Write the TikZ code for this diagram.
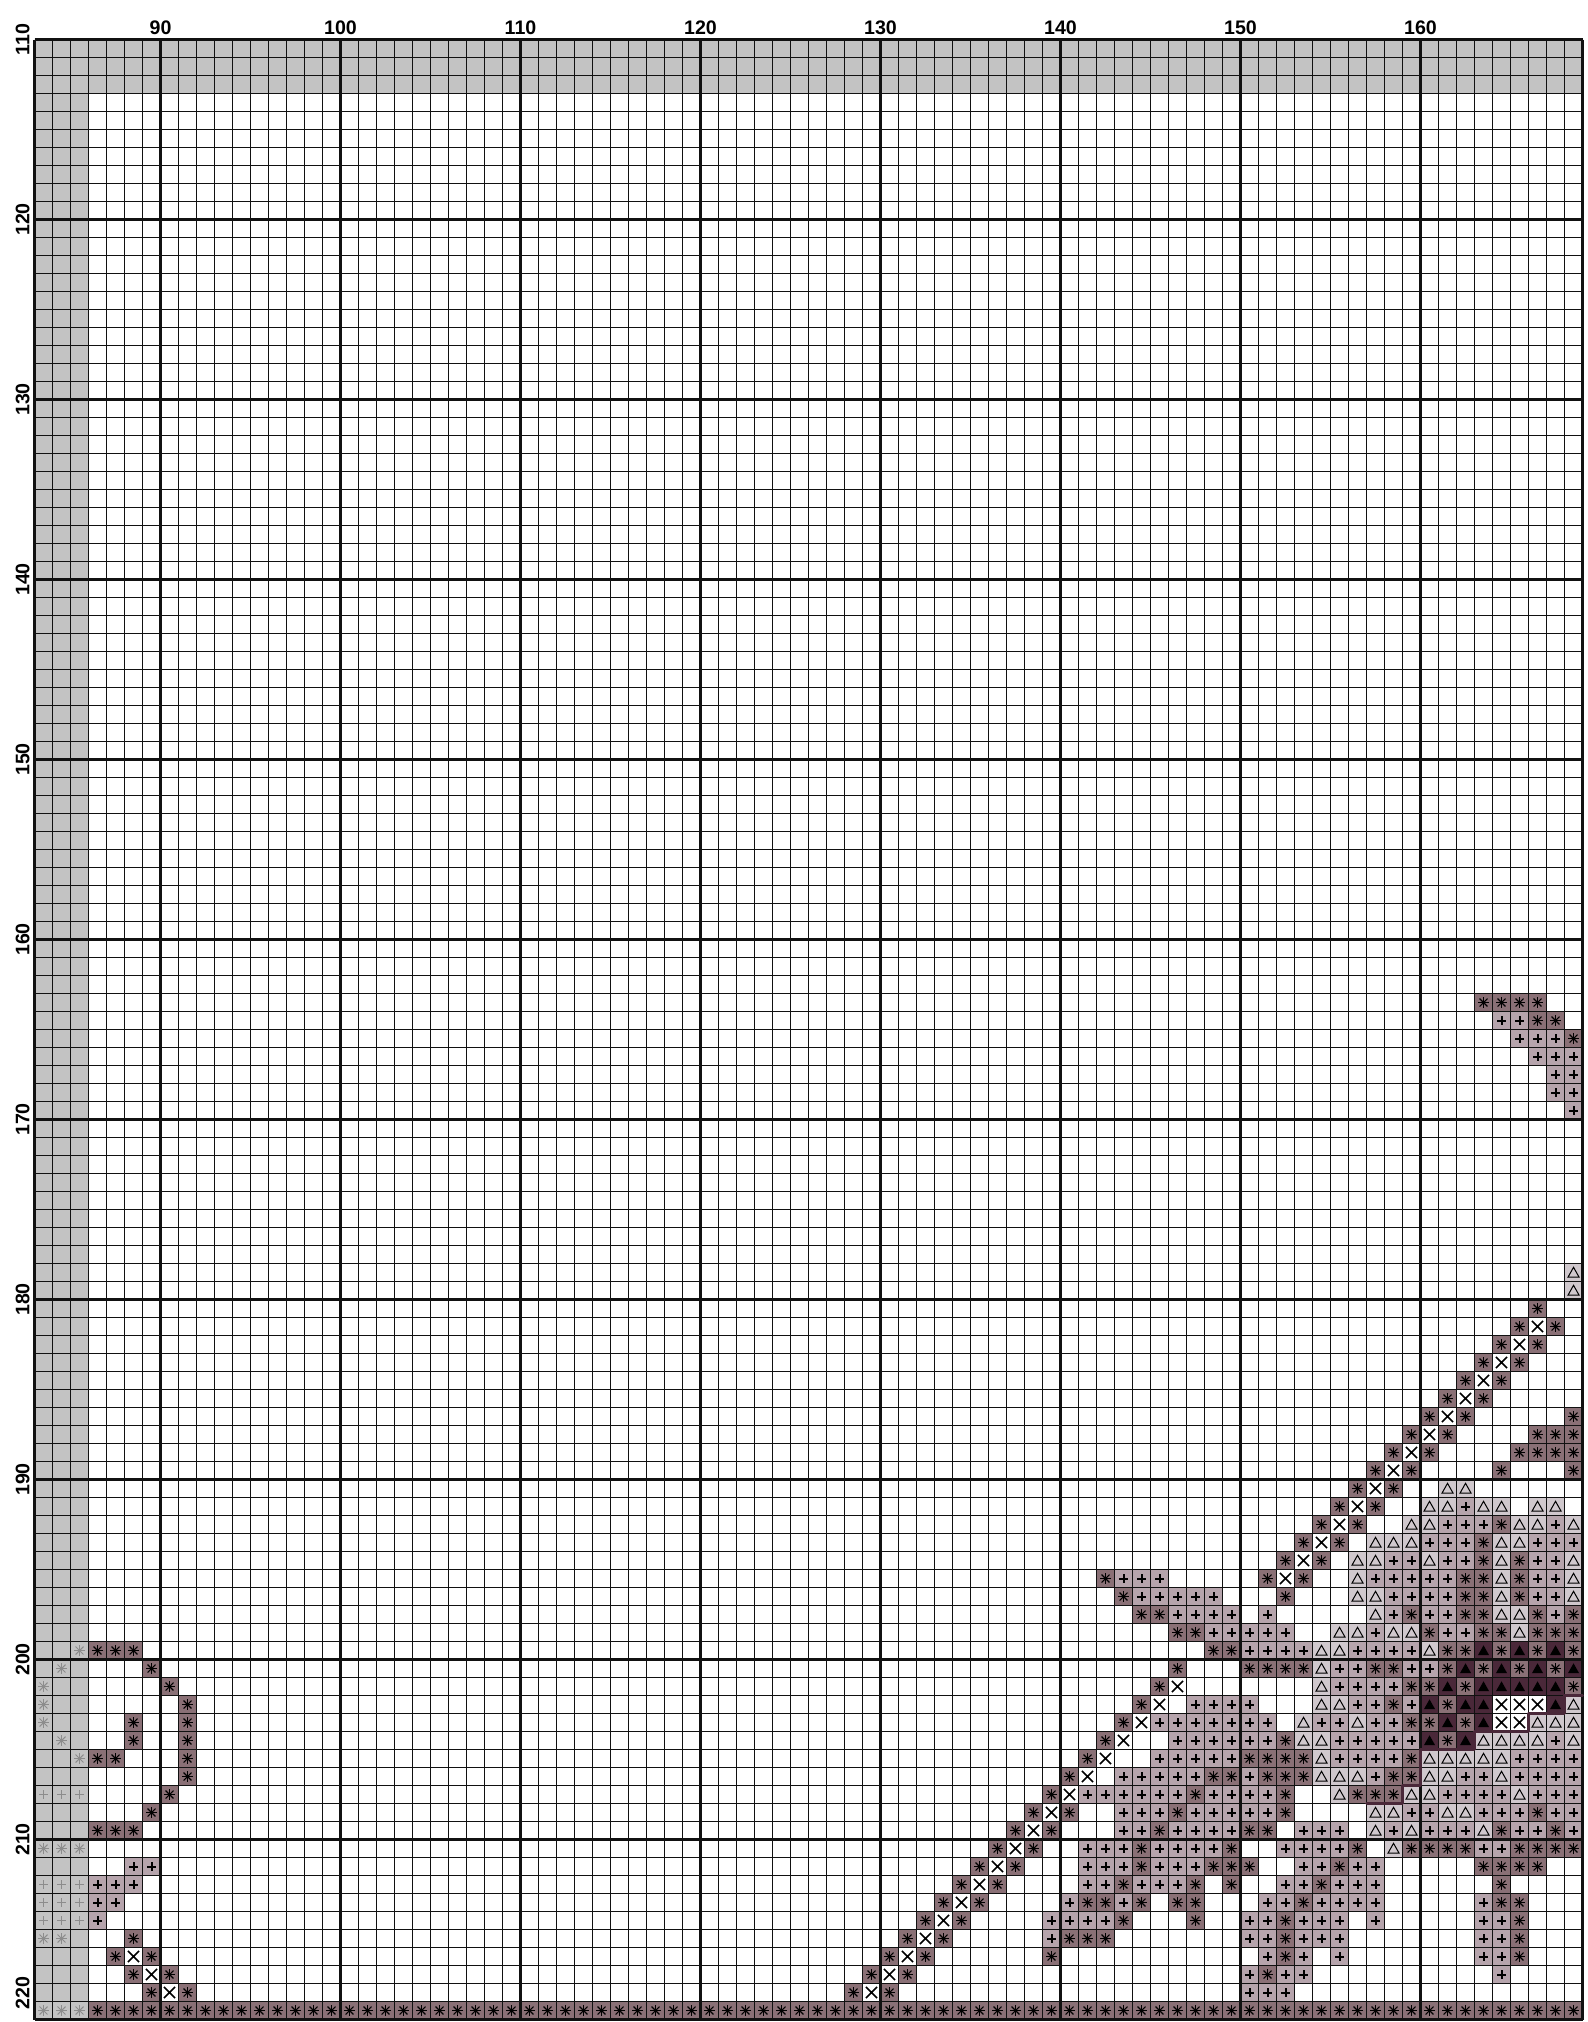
\documentclass[tikz,border=0pt]{standalone}
\usepackage{fontspec}
\setmainfont{Liberation Sans}
\definecolor{astbg}{HTML}{8A7076}
\definecolor{plusbg}{HTML}{B6A4AC}
\definecolor{tribg}{HTML}{D0C8CD}
\definecolor{darkbg}{HTML}{4A2839}
\definecolor{marginc}{HTML}{C3C3C3}
\definecolor{marksym}{HTML}{8C8C8C}
\definecolor{gridc}{HTML}{111111}
\tikzset{
  symline/.style={line width=0.5pt, black},
  astline/.style={line width=0.55pt, black},
  plusline/.style={line width=1pt, black},
  crossline/.style={line width=0.8pt, black},
  gridthin/.style={line width=0.5pt, gridc},
  gridthick/.style={line width=1.05pt, gridc},
  backst/.style={line width=1.4pt, darkbg, line join=round, line cap=round},
  lbl/.style={font=\fontsize{9.8}{11}\selectfont\bfseries, inner sep=0pt},
  astsym/.pic={\fill[astbg] (-0.5,-0.5) rectangle (0.5,0.5);
    \foreach \ang in {0,45,...,315} \draw[astline] (0,0) -- (\ang:0.31);
    \fill[black] (0,0) circle[radius=0.9pt];},
  astgray/.pic={\foreach \ang in {0,45,...,315} \draw[line width=0.5pt, marksym] (0,0) -- (\ang:0.31);
    \fill[marksym] (0,0) circle[radius=0.6pt];},
  plussym/.pic={\fill[plusbg] (-0.5,-0.5) rectangle (0.5,0.5);
    \draw[plusline] (-0.25,0) -- (0.25,0) (0,-0.25) -- (0,0.25);},
  plusgray/.pic={\draw[line width=0.7pt, marksym] (-0.25,0) -- (0.25,0) (0,-0.25) -- (0,0.25);},
  trisym/.pic={\fill[tribg] (-0.5,-0.5) rectangle (0.5,0.5);
    \draw[symline, line join=miter] (-0.31,0.26) -- (0.31,0.26) -- (0,-0.29) -- cycle;},
  ftrisym/.pic={\fill[darkbg] (-0.5,-0.5) rectangle (0.5,0.5);
    \fill[black] (-0.31,0.26) -- (0.31,0.26) -- (0,-0.29) -- cycle;},
  xsym/.pic={\fill[white] (-0.5,-0.5) rectangle (0.5,0.5);
    \draw[crossline] (-0.31,-0.31) -- (0.31,0.31) (-0.31,0.31) -- (0.31,-0.31);}
}
\newcommand\placecells[2]{\foreach \rw/\cs in {#2} {\foreach \cl in \cs {\pic at (\cl+0.5,\rw+0.5) {#1};}}}
\begin{document}
\begin{tikzpicture}[x=9pt, y=-9pt]
\useasboundingbox (81.0833,107.8056) rectangle (169.25,220.1389);
\fill[white] (81.0833,107.8056) rectangle (169.25,220.1389);
% margin (overlap) area
\fill[marginc] (83,110) rectangle (169,113);
\fill[marginc] (83,110) rectangle (86,220);
% dark asterisk cells
\placecells{astsym}{163/{163,164,165,166},164/{166,167},165/{168},180/{166},181/{165,167},182/{164,166},183/{163,165},184/{162,164},185/{161,163},186/{160,162,168},187/{159,161,166,167,168},188/{158,160,165,166,167,168},189/{157,159,164,168},190/{156,158},191/{155,157},192/{154,156,164},193/{153,155,163},194/{152,154,163,165},195/{142,151,153,162,163,165},196/{143,152,162,163,165},197/{144,145,159,162,163,166,168},198/{146,147,160,163,164,166,167,168},199/{86,87,88,148,149,161,162,164,166,168},200/{89,146,150,151,152,153,157,158,161,163,165,167},201/{90,145,159,160,162,168},202/{91,144,158,161},203/{88,91,143,159,160,162},204/{88,91,142,152,161},205/{86,87,91,141,150,151,152,153,159},206/{91,140,148,149,151,152,153,158,159},207/{90,139,147,152,156,157,158},208/{89,138,140,146,152,166},209/{86,87,88,137,139,145,150,151,164,167},210/{136,138,144,149,156,159,160,161,162,165,166,167,168},211/{135,137,144,148,149,150,155,163,164,165,166},212/{134,136,143,147,149,154,164},213/{133,135,141,142,144,146,147,153,164,165},214/{132,134,143,147,152,165},215/{88,131,133,140,141,142,152,165},216/{87,89,130,132,139,152,165},217/{88,90,129,131,151},218/{89,91,128,130}}
\foreach \cl in {86,...,168} {\pic at (\cl+0.5,219.5) {astsym};}
% plus cells
\placecells{plussym}{164/{164,165},165/{165,166,167},166/{166,167,168},167/{167,168},168/{167,168},169/{168},191/{162},192/{161,162,163,167},193/{160,161,162,166,167,168},194/{158,159,161,162,166,167},195/{143,144,145,157,158,159,160,161,166,167},196/{144,145,146,147,148,158,159,160,161,166,167},197/{146,147,148,149,151,158,160,161,167},198/{148,149,150,151,152,157,161,162},199/{150,151,152,153,156,157,158,159},200/{155,156,159,160},201/{155,156,157,158},202/{147,148,149,150,156,157,159},203/{145,146,147,148,149,150,151,154,155,157,158},204/{146,147,148,149,150,151,155,156,157,158,159,167},205/{145,146,147,148,149,155,156,157,158,165,166,167,168},206/{143,144,145,146,147,150,157,162,163,165,166,167,168},207/{141,142,143,144,145,146,148,149,150,151,161,162,163,164,166,167,168},208/{143,144,145,147,148,149,150,151,159,160,163,164,165,167,168},209/{143,144,146,147,148,149,153,154,155,158,160,161,162,165,166,168},210/{141,142,143,145,146,147,148,152,153,154,155,163,164},211/{88,89,141,142,143,145,146,147,153,154,156,157},212/{86,87,88,141,142,144,145,146,152,153,155,156,157},213/{86,87,140,143,151,152,154,155,156,157,163},214/{86,139,140,141,142,150,151,153,154,155,157,163,164},215/{139,150,151,153,154,155,163,164},216/{151,153,155,163,164},217/{150,152,153,164},218/{150,151,152}}
% open triangle cells
\placecells{trisym}{178/{168},179/{168},190/{161,162},191/{160,161,163,164,166,167},192/{159,160,165,166,168},193/{157,158,159,164,165},194/{156,157,160,164,168},195/{156,164,168},196/{156,157,164,168},197/{157,164,165},198/{155,156,158,159,165},199/{154,155,160},200/{154},201/{154},202/{154,155,168},203/{153,156,166,167,168},204/{153,154,163,164,165,166,168},205/{154,160,161,162,163,164},206/{154,155,156,160,161,164},207/{155,159,160,165},208/{157,158,161,162},209/{157,159,163},210/{158}}
% filled triangle cells
\placecells{ftrisym}{199/{163,165,167},200/{162,164,166,168},201/{161,163,164,165,166,167},202/{160,162,163,167},203/{161,163},204/{160,162}}
% cross cells
\placecells{xsym}{181/{166},182/{165},183/{164},184/{163},185/{162},186/{161},187/{160},188/{159},189/{158},190/{157},191/{156},192/{155},193/{154},194/{153},195/{152},201/{146},202/{145,164,165,166},203/{144,164,165},204/{143},205/{142},206/{141},207/{140},208/{139},209/{138},210/{137},211/{136},212/{135},213/{134},214/{133},215/{132},216/{88,131},217/{89,130},218/{90,129}}
% symbols in the overlap margin
\placecells{astgray}{199/{85},200/{84},201/{83},202/{83},203/{83},204/{84},205/{85},210/{83,84,85},215/{83,84},219/{83,84,85}}
\placecells{plusgray}{207/{83,84,85},212/{83,84,85},213/{83,84,85},214/{83,84,85}}
% grid
\foreach \cl in {83,...,169} \draw[gridthin] (\cl,110) -- (\cl,220);
\foreach \rw in {110,...,220} \draw[gridthin] (83,\rw) -- (169,\rw);
\foreach \cl in {90,100,...,160} \draw[gridthick] (\cl,110) -- (\cl,220);
\foreach \rw in {110,120,...,220} \draw[gridthick] (83,\rw) -- (169,\rw);
\draw[gridthick] (83,110) -- (83,220) (169,110) -- (169,220);
% backstitch
\draw[backst] (169,202) -- (168,202) -- (168,203) -- (166,203) -- (166,204) -- (163,204) -- (163,205) -- (160,205) -- (160,207) -- (159,207) -- (159,208) -- (157,208);
% labels
\foreach \cl in {90,100,...,160} \node[lbl] (cl\cl) at (\cl,109.32) {\cl};
\foreach \rw in {110,120,...,210} \node[lbl, rotate=90] (rl\rw) at (82.34,\rw) {\rw};
\node[lbl, rotate=90, anchor=west] (rl220) at (82.34,219.47) {220};
\end{tikzpicture}
\end{document}
